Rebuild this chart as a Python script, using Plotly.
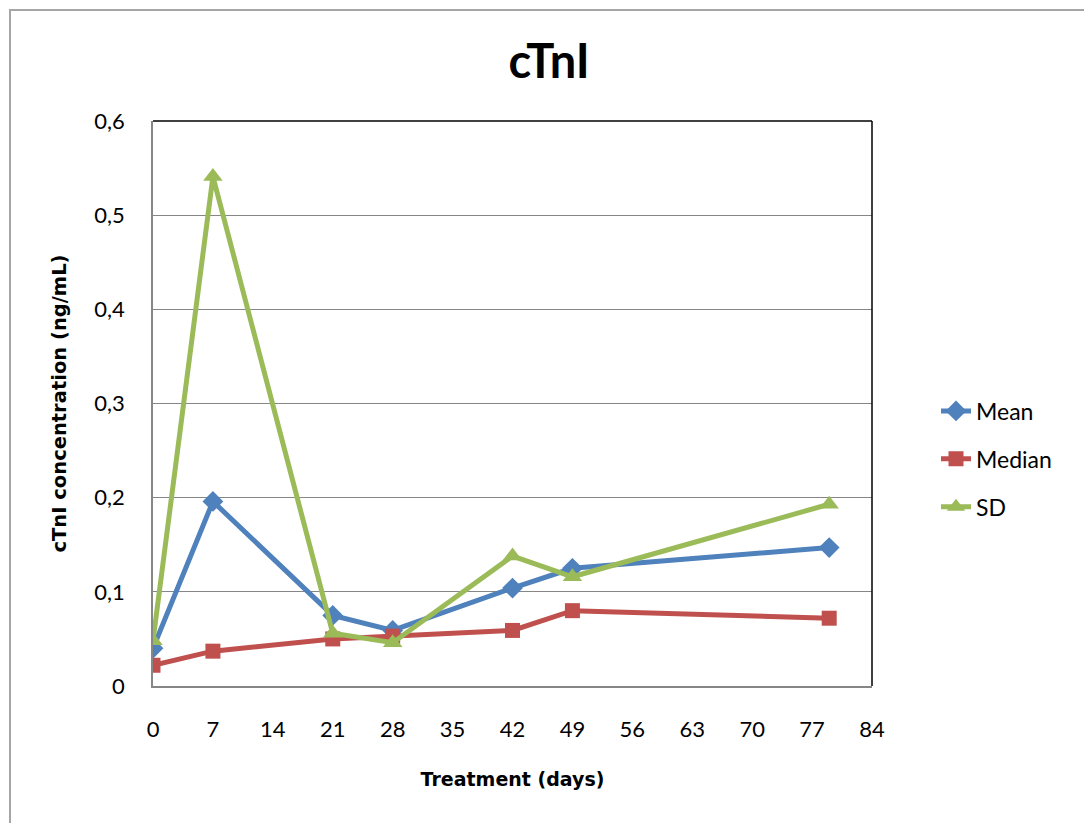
import plotly.graph_objects as go

days = [0, 7, 21, 28, 42, 49, 79]
mean_vals = [0.040, 0.196, 0.075, 0.059, 0.104, 0.125, 0.147]
median_vals = [0.022, 0.037, 0.050, 0.053, 0.059, 0.080, 0.072]
sd_vals = [0.048, 0.541, 0.056, 0.046, 0.138, 0.116, 0.193]
x_ticks = [0, 7, 14, 21, 28, 35, 42, 49, 56, 63, 70, 77, 84]
y_ticks = [0, 0.1, 0.2, 0.3, 0.4, 0.5, 0.6]
y_tick_labels = ["0", "0,1", "0,2", "0,3", "0,4", "0,5", "0,6"]

FONT = "Lato, 'Open Sans', sans-serif"
TFONT = "'DejaVu Sans', sans-serif"

series = [
    ("Mean", mean_vals, "#4F81BD", "diamond", 16),
    ("Median", median_vals, "#C0504D", "square", 15),
    ("SD", sd_vals, "#9BBB59", "triangle-up", 17),
]

fig = go.Figure()
for name, vals, color, sym, size in series:
    fig.add_trace(go.Scatter(
        x=days, y=vals, name=name, mode="lines+markers",
        line=dict(color=color, width=5),
        marker=dict(symbol=sym, size=size, color=color),
        legendgroup=name,
    ))

OFF = 8  # page body offset
W, H = 1092, 823
L, T = 153 - OFF, 121 - OFF
pw, ph = 719, 565
R = W - L - pw
B = H - T - ph

fig.update_layout(
    width=W, height=H,
    margin=dict(l=L, r=R, t=T, b=B),
    paper_bgcolor="white", plot_bgcolor="white",
    font=dict(family=FONT, size=22, color="#000000"),
    title=dict(text="<b>cTnI</b>", x=(549 - 153) / pw, xref="paper", xanchor="center",
               y=1 - (62 - OFF) / H, yanchor="middle",
               font=dict(size=47, family=FONT, color="#000000")),
    showlegend=True,
    legend=dict(x=(936 - 153) / pw, xanchor="left", y=(686 - 459) / ph, yanchor="middle",
                font=dict(size=23, family=FONT), traceorder="grouped",
                tracegroupgap=15, bgcolor="rgba(0,0,0,0)"),
)

fig.update_xaxes(
    range=[0, 84], tickvals=x_ticks, ticktext=[str(t) for t in x_ticks],
    showgrid=False, zeroline=False, showline=True, linecolor="#868686", linewidth=1.5,
    ticks="", ticklabelstandoff=23, tickfont=dict(size=22),
    title=dict(text="<b>Treatment (days)</b>", font=dict(size=19, family=TFONT), standoff=32),
)
fig.update_yaxes(
    range=[0, 0.6], tickvals=y_ticks, ticktext=y_tick_labels,
    showgrid=True, gridcolor="#868686", gridwidth=1.3, zeroline=False,
    showline=True, linecolor="#868686", linewidth=1.5,
    ticks="", ticklabelstandoff=22, tickfont=dict(size=22),
    title=dict(text="<b>cTnI concentration (ng/mL)</b>", font=dict(size=19.5, family=TFONT), standoff=23),
)

# plot area border (top/right black)
fig.add_shape(type="line", xref="paper", yref="paper", x0=0, x1=1, y0=1, y1=1,
              line=dict(color="#000000", width=1.5))
fig.add_shape(type="line", xref="paper", yref="paper", x0=1, x1=1, y0=0, y1=1,
              line=dict(color="#000000", width=1.5))
# outer chart border
fig.add_shape(type="rect", xref="paper", yref="paper",
              x0=(10 - 153) / pw, x1=(1091 - 153) / pw,
              y0=(686 - 840) / ph, y1=(686 - 10) / ph,
              line=dict(color="#A6A6A6", width=2), layer="below")

fig.write_html("out.html")
